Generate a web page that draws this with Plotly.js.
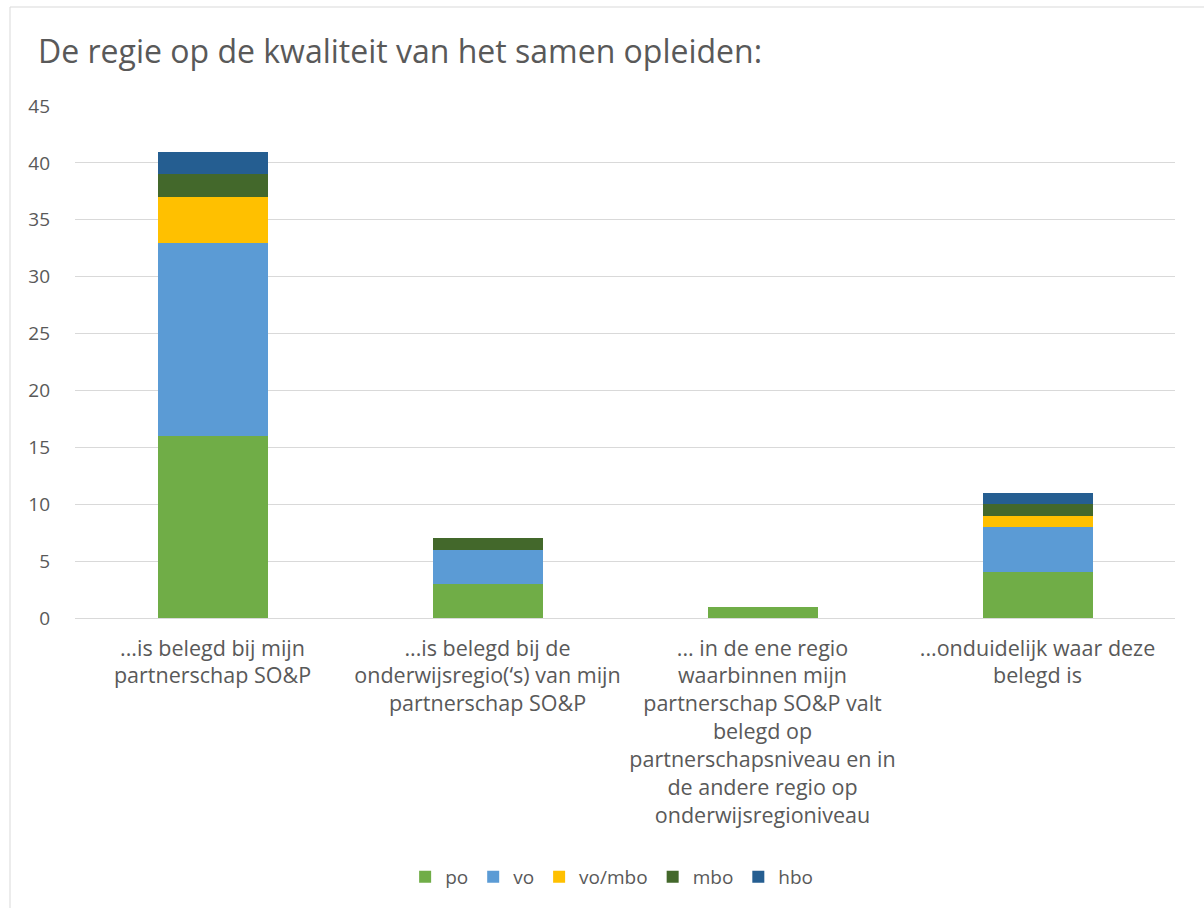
<!DOCTYPE html>
<html><head><meta charset="utf-8">
<script src="https://cdn.plot.ly/plotly-3.0.1.min.js"></script>
<style>html,body{margin:0;padding:0;background:#fff;}#chart{width:1204px;height:908px;}</style>
</head><body><div id="chart"></div>
<script>
const categories = [
  "...is belegd bij mijn<br>partnerschap SO&P",
  "...is belegd bij de<br>onderwijsregio(‘s) van mijn<br>partnerschap SO&P",
  "... in de ene regio<br>waarbinnen mijn<br>partnerschap SO&P valt<br>belegd op<br>partnerschapsniveau en in<br>de andere regio op<br>onderwijsregioniveau",
  "...onduidelijk waar deze<br>belegd is"
];
const seriesNames = ["po", "vo", "vo/mbo", "mbo", "hbo"];
const po = [16, 3, 1, 4];
const vo = [17, 3, 0, 4];
const voMbo = [4, 0, 0, 1];
const mbo = [2, 1, 0, 1];
const hbo = [2, 0, 0, 1];
const colors = ["#70AD47", "#5B9BD5", "#FFC000", "#43682B", "#255E91"];
const yTicks = [0, 5, 10, 15, 20, 25, 30, 35, 40, 45];

const allSeries = [po, vo, voMbo, mbo, hbo];
const font = "Open Sans, Liberation Sans, Arial, sans-serif";
const traces = allSeries.map((vals, i) => ({
  type: "bar",
  name: seriesNames[i],
  x: categories,
  y: vals,
  marker: {color: colors[i], line: {width: 0}},
  hoverinfo: "y+name"
}));

const layout = {
  width: 1204, height: 908,
  barmode: "stack",
  bargap: 0.6,
  paper_bgcolor: "#fff", plot_bgcolor: "#fff",
  margin: {l: 75, r: 29, t: 106, b: 290},
  title: {text: "De regie op de kwaliteit van het samen opleiden:", x: 38/1204, xanchor: "left", xref: "container", y: 1 - 52/908, yanchor: "middle", yref: "container",
    font: {family: font, size: 32, color: "#595959"}},
  xaxis: {
    tickfont: {family: font, size: 21.5, color: "#595959"},
    showgrid: false, zeroline: false, showline: false, ticks: "", automargin: false, ticklabelstandoff: 15
  },
  yaxis: {
    range: [0, 45], tickvals: yTicks, ticktext: yTicks.map(String),
    tickfont: {family: font, size: 19, color: "#595959"},
    gridcolor: "#D9D9D9", gridwidth: 1, zeroline: true, zerolinecolor: "#D9D9D9", zerolinewidth: 1,
    showline: false, ticks: "", ticklabelstandoff: 24, automargin: false
  },
  legend: {
    orientation: "h", x: 0.508, xanchor: "center", xref: "container", y: 1 - 877/908, yanchor: "middle", yref: "container",
    font: {family: font, size: 19, color: "#595959"}, traceorder: "normal", itemwidth: 30
  },
  shapes: [{type: "rect", xref: "paper", yref: "paper",
    x0: (10 - 75)/1100, x1: (1220 - 75)/1100, y0: -(930 - 618)/512, y1: (618 - 7)/512,
    line: {color: "#D9D9D9", width: 1}, fillcolor: "rgba(0,0,0,0)", layer: "below"}]
};
Plotly.newPlot("chart", traces, layout, {displayModeBar: false, staticPlot: true});
</script></body></html>
